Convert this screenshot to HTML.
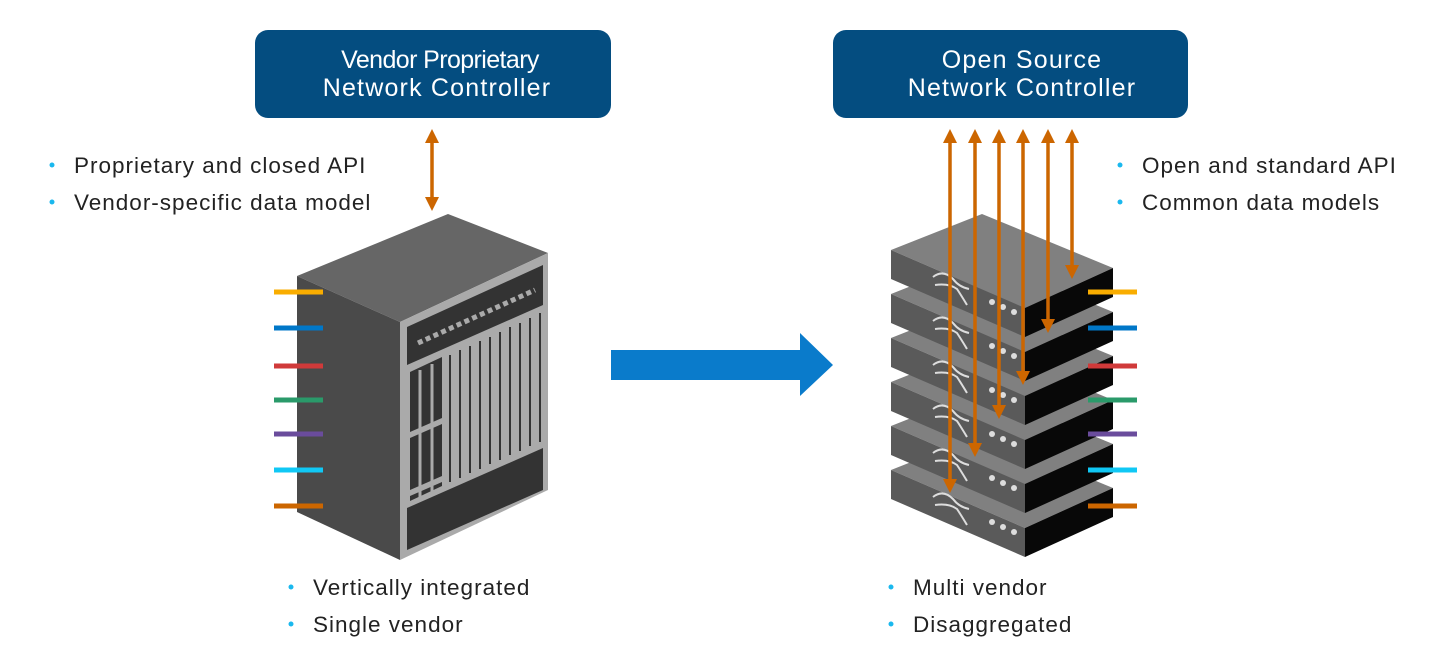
<!DOCTYPE html>
<html><head><meta charset="utf-8"><style>
body{margin:0;width:1440px;height:670px;background:#fff;overflow:hidden;font-family:"Liberation Sans",sans-serif}
svg{position:absolute;left:0;top:0}
</style></head><body>
<svg width="1440" height="670" viewBox="0 0 1440 670" font-family="Liberation Sans, sans-serif">
<defs>
<g id="slab">
 <polygon points="891,250 982,214 1113,268 1025,308" fill="#808080"/>
 <polygon points="891,250 1025,308 1025,337 891,279" fill="#5a5a5a"/>
 <polygon points="1025,308 1113,268 1113,297 1025,337" fill="#080808"/>
 <path d="M933,277 q10,-8 20,2 q6,8 16,10 M935,285 q14,-2 22,4 q4,6 10,16" stroke="#ddd" stroke-width="2" fill="none"/>
 <circle cx="992" cy="302" r="3" fill="#ddd"/><circle cx="1003" cy="307" r="3" fill="#ddd"/><circle cx="1014" cy="312" r="3" fill="#ddd"/>
</g>
<marker id="ah" markerWidth="4" markerHeight="4" refX="2" refY="2" orient="auto-start-reverse" markerUnits="strokeWidth"><path d="M0,0 L4,2 L0,4 z" fill="#cc6600"/></marker>
</defs>
<rect x="255" y="30" width="356" height="88" rx="13" fill="#044d80"/>
<text x="440" y="68" fill="#fff" font-size="25" text-anchor="middle" letter-spacing="-0.6">Vendor Proprietary</text>
<text x="437" y="96" fill="#fff" font-size="25" text-anchor="middle" letter-spacing="1.2">Network Controller</text>
<rect x="833" y="30" width="355" height="88" rx="13" fill="#044d80"/>
<text x="1022" y="68" fill="#fff" font-size="25" text-anchor="middle" letter-spacing="1.2">Open Source</text>
<text x="1022" y="96" fill="#fff" font-size="25" text-anchor="middle" letter-spacing="1.2">Network Controller</text>

<g font-size="22.5" fill="#222" letter-spacing="1">
<circle cx="52" cy="165" r="2.5" fill="#1ab8ee"/><text x="74" y="173">Proprietary and closed API</text>
<circle cx="52" cy="202" r="2.5" fill="#1ab8ee"/><text x="74" y="210">Vendor-specific data model</text>
<circle cx="1120" cy="165" r="2.5" fill="#1ab8ee"/><text x="1142" y="173">Open and standard API</text>
<circle cx="1120" cy="202" r="2.5" fill="#1ab8ee"/><text x="1142" y="210">Common data models</text>
<circle cx="291" cy="587" r="2.5" fill="#1ab8ee"/><text x="313" y="595">Vertically integrated</text>
<circle cx="291" cy="624" r="2.5" fill="#1ab8ee"/><text x="313" y="632">Single vendor</text>
<circle cx="891" cy="587" r="2.5" fill="#1ab8ee"/><text x="913" y="595">Multi vendor</text>
<circle cx="891" cy="624" r="2.5" fill="#1ab8ee"/><text x="913" y="632">Disaggregated</text>
</g>

<polygon points="448,214 548,253 400,322 297,276" fill="#666"/>
<polygon points="297,276 400,322 400,560 297,512" fill="#4a4a4a"/>
<polygon points="400,322 548,253 548,490 400,560" fill="#aaa"/>
<polygon points="407,327 543,265 543,305 407,365" fill="#333"/>
<polyline points="418,343 535,290" stroke="#aaa" stroke-width="5" stroke-dasharray="5,3.5" fill="none"/>
<polygon points="407,508 543,448 543,490 407,550" fill="#333"/>
<polygon points="410,372 442,357 442,486 410,501" fill="#333"/>
<g stroke="#aaa" stroke-width="3"><line x1="420" y1="370" x2="420" y2="498"/><line x1="432" y1="364" x2="432" y2="492"/></g>
<g fill="#aaa"><polygon points="410,432 442,418 442,424 410,438"/><polygon points="410,490 442,476 442,482 410,496"/></g>
<g stroke="#333" stroke-width="2">
<line x1="450" y1="355" x2="450" y2="482"/><line x1="460" y1="350" x2="460" y2="478"/><line x1="470" y1="346" x2="470" y2="473"/><line x1="480" y1="341" x2="480" y2="469"/><line x1="490" y1="337" x2="490" y2="464"/><line x1="500" y1="332" x2="500" y2="460"/><line x1="510" y1="327" x2="510" y2="455"/><line x1="520" y1="323" x2="520" y2="451"/><line x1="530" y1="318" x2="530" y2="446"/><line x1="540" y1="313" x2="540" y2="442"/>
</g>
<line x1="432" y1="136" x2="432" y2="204" stroke="#cc6600" stroke-width="3.5" marker-start="url(#ah)" marker-end="url(#ah)"/>

<polygon points="611,350 800,350 800,333 833,365 800,396 800,380 611,380" fill="#0a7bcb"/>

<use href="#slab" transform="translate(0,220)"/>
<use href="#slab" transform="translate(0,176)"/>
<use href="#slab" transform="translate(0,132)"/>
<use href="#slab" transform="translate(0,88)"/>
<use href="#slab" transform="translate(0,44)"/>
<use href="#slab"/>
<g stroke-width="5">
<line x1="274" y1="292" x2="323" y2="292" stroke="#f9ad00"/>
<line x1="274" y1="328" x2="323" y2="328" stroke="#0077c8"/>
<line x1="274" y1="366" x2="323" y2="366" stroke="#d03a3a"/>
<line x1="274" y1="400" x2="323" y2="400" stroke="#2a9a6a"/>
<line x1="274" y1="434" x2="323" y2="434" stroke="#6a4c9c"/>
<line x1="274" y1="470" x2="323" y2="470" stroke="#10c8f5"/>
<line x1="274" y1="506" x2="323" y2="506" stroke="#cc6600"/>
<line x1="1088" y1="292" x2="1137" y2="292" stroke="#f9ad00"/>
<line x1="1088" y1="328" x2="1137" y2="328" stroke="#0077c8"/>
<line x1="1088" y1="366" x2="1137" y2="366" stroke="#d03a3a"/>
<line x1="1088" y1="400" x2="1137" y2="400" stroke="#2a9a6a"/>
<line x1="1088" y1="434" x2="1137" y2="434" stroke="#6a4c9c"/>
<line x1="1088" y1="470" x2="1137" y2="470" stroke="#10c8f5"/>
<line x1="1088" y1="506" x2="1137" y2="506" stroke="#cc6600"/>
</g>
<g stroke="#cc6600" stroke-width="3.5" marker-start="url(#ah)" marker-end="url(#ah)">
<line x1="950" y1="136" x2="950" y2="486"/>
<line x1="975" y1="136" x2="975" y2="450"/>
<line x1="999" y1="136" x2="999" y2="412"/>
<line x1="1023" y1="136" x2="1023" y2="378"/>
<line x1="1048" y1="136" x2="1048" y2="326"/>
<line x1="1072" y1="136" x2="1072" y2="272"/>
</g>
</svg>
</body></html>
